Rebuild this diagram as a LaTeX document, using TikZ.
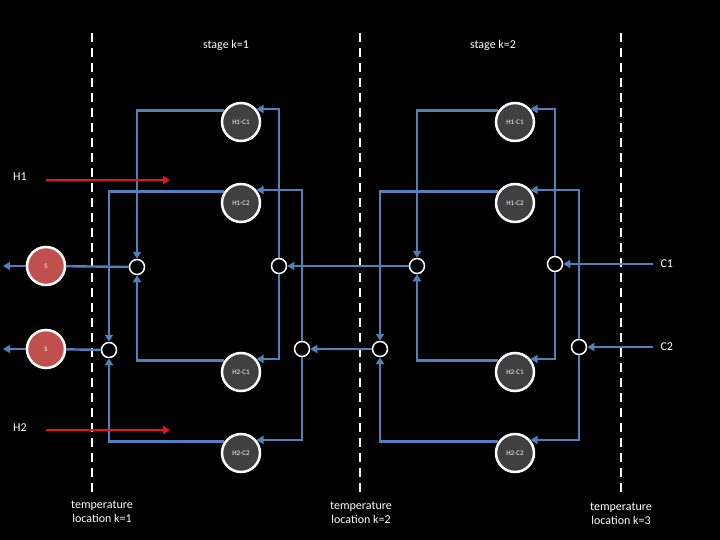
\documentclass[tikz,border=0pt]{standalone}
\usepackage{fontspec}
\setmainfont{Carlito}
\usepackage{tikz}
\usetikzlibrary{arrows.meta, positioning}
\definecolor{pipeblue}{RGB}{79,129,189}
\definecolor{hxgray}{RGB}{64,64,64}
\definecolor{sred}{RGB}{192,80,77}
\definecolor{hotred}{RGB}{230,20,20}

\begin{document}
\begin{tikzpicture}[x=1pt, y=-1pt,
		pipe/.style={draw=pipeblue, line width=2.4pt},
		flow/.style={pipe, -{Triangle[length=7pt,width=8pt]}},
		hot/.style={draw=hotred, line width=2.6pt, -{Triangle[length=7pt,width=8pt]}},
		hx/.style={circle, draw=white, fill=hxgray, line width=2.5pt, minimum size=38pt,
		inner sep=0pt, text=white, font=\fontsize{7}{8}\selectfont},
		sink/.style={circle, draw=white, fill=sred, line width=2.5pt, minimum size=38pt,
		inner sep=0pt, text=white, font=\fontsize{7}{8}\selectfont},
		junc/.style={circle, draw=white, fill=black, line width=1.5pt, minimum size=15pt, inner sep=0pt},
		bound/.style={draw=white, line width=2.2pt, dash pattern=on 9pt off 6pt},
		lbl/.style={text=white, align=center, font=\fontsize{12}{14}\selectfont}
	]
		\fill[black] (0,0) rectangle (720,540);
		\useasboundingbox (0,0) rectangle (720,540);

		% temperature locations
		\draw[bound] (92,33) -- (92,492);
		\draw[bound] (360,33) -- (360,492);
		\draw[bound] (621,33) -- (621,492);
		\node[lbl](st1) at (226,45){stage k=1};
		\node[lbl](st2) at (493,45){stage k=2};
		\node[lbl](loc1) at (102,512){temperature\\location k=1};
		\node[lbl](loc2) at (361,513){temperature\\location k=2};
		\node[lbl](loc3) at (621,514){temperature\\location k=3};

		% exchangers
		\node[hx](a11) at (241,122){H1-C1};
		\node[hx](a12) at (241,203){H1-C2};
		\node[hx](a21) at (241,372){H2-C1};
		\node[hx](a22) at (241,453){H2-C2};
		\node[hx](b11) at (515,122){H1-C1};
		\node[hx](b12) at (515,203){H1-C2};
		\node[hx](b21) at (515,372){H2-C1};
		\node[hx](b22) at (515,453){H2-C2};

		% splitters and mixers
		\node[junc](ma1) at (137,267){};
		\node[junc](ma2) at (109,350){};
		\node[junc](sa1) at (279,266){};
		\node[junc](sa2) at (302,349){};
		\node[junc](mb1) at (417,266){};
		\node[junc](mb2) at (380,349){};
		\node[junc](sb1) at (555,264){};
		\node[junc](sb2) at (579,347){};

		% sinks and inlets
		\node[sink](snk1) at (46,266){S};
		\node[sink](snk2) at (46,349){S};
		\coordinate(out1) at (3,266);
		\coordinate(out2) at (3,349);
		\coordinate(in1) at (653,264);
		\coordinate(in2) at (653,347);
		\node[lbl, right=4pt of in1](c1){C1};
		\node[lbl, right=4pt of in2](c2){C2};
		\coordinate(h1s) at (46,180);
		\coordinate(h1e) at (170,180);
		\coordinate(h2s) at (46,430);
		\coordinate(h2e) at (170,430);
		\node[lbl](h1) at (20,177){H1};
		\node[lbl](h2) at (20,428){H2};

		% stage k=2
		\draw[flow](in1) -- (sb1);
		\draw[flow](in2) -- (sb2);
		\draw[flow](sb1) |- (b11.40);
		\draw[flow](sb1) |- (b21.40);
		\draw[flow](sb2) |- (b12.40);
		\draw[flow](sb2) |- (b22.40);
		\draw[flow](b11.145) -| (mb1);
		\draw[flow](b21.145) -| (mb1);
		\draw[flow](b12.145) -| (mb2);
		\draw[flow](b22.145) -| (mb2);
		\draw[flow](mb1) -- (sa1);
		\draw[flow](mb2) -- (sa2);

		% stage k=1
		\draw[flow](sa1) |- (a11.40);
		\draw[flow](sa1) |- (a21.40);
		\draw[flow](sa2) |- (a12.40);
		\draw[flow](sa2) |- (a22.40);
		\draw[flow](a11.145) -| (ma1);
		\draw[flow](a21.145) -| (ma1);
		\draw[flow](a12.145) -| (ma2);
		\draw[flow](a22.145) -| (ma2);
		\draw[pipe](ma1) -- (snk1);
		\draw[pipe](ma2) -- (snk2);
		\draw[flow](snk1) -- (out1);
		\draw[flow](snk2) -- (out2);

		% hot streams
		\draw[hot](h1s) -- (h1e);
		\draw[hot](h2s) -- (h2e);
	\end{tikzpicture}
\end{document}
